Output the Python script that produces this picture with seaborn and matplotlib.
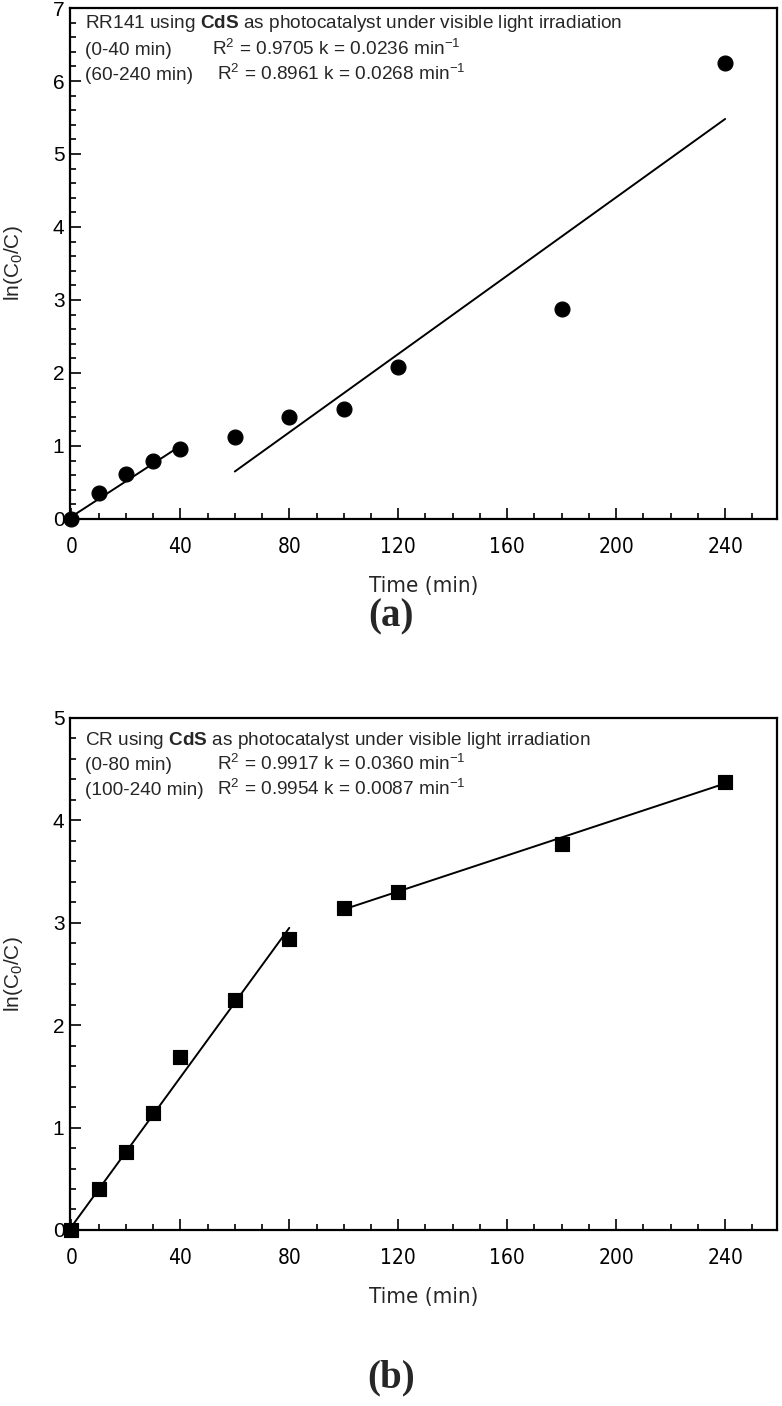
import numpy as np
import pandas as pd
import matplotlib
matplotlib.use("Agg")
import matplotlib.pyplot as plt
import seaborn as sns
from matplotlib import font_manager
from matplotlib.ticker import MultipleLocator

# Panel (a): RR141 on CdS
time_a = [0, 10, 20, 30, 40, 60, 80, 100, 120, 180, 240]
lnc_a = [0.0, 0.35, 0.62, 0.80, 0.96, 1.12, 1.40, 1.51, 2.08, 2.88, 6.25]
fit_a1_x = [0, 40]
fit_a1_y = [0.03, 1.00]
fit_a2_x = [60, 240]
fit_a2_y = [0.65, 5.48]

# Panel (b): CR on CdS
time_b = [0, 10, 20, 30, 40, 60, 80, 100, 120, 180, 240]
lnc_b = [0.0, 0.40, 0.76, 1.14, 1.69, 2.25, 2.84, 3.14, 3.30, 3.77, 4.37]
fit_b1_x = [0, 80]
fit_b1_y = [0.03, 2.95]
fit_b2_x = [100, 240]
fit_b2_y = [3.13, 4.36]

xticks = [0, 40, 80, 120, 160, 200, 240]

sns.set_style("ticks")
plt.rcParams['font.family'] = ['Liberation Sans', 'DejaVu Sans']
plt.rcParams['mathtext.fontset'] = 'custom'
plt.rcParams['mathtext.rm'] = 'Liberation Sans'
plt.rcParams['mathtext.bf'] = 'Liberation Sans:bold'
plt.rcParams['mathtext.it'] = 'Liberation Sans:italic'

# x axis labels are in a narrow face in the original; use one if present
names = {f.name for f in font_manager.fontManager.ttflist}
narrow_kw = {'family': ['Liberation Sans', 'DejaVu Sans']}
if 'Liberation Sans Narrow' in names:
    narrow_kw = {'family': ['Liberation Sans Narrow', 'Liberation Sans']}
elif any(f.name == 'DejaVu Sans' and f.stretch == 'condensed'
         for f in font_manager.fontManager.ttflist):
    narrow_kw = {'family': ['DejaVu Sans'], 'stretch': 'condensed'}

fig = plt.figure(figsize=(7.82, 14.06), dpi=100)
ax1 = fig.add_axes([0.0895, 0.6309, 0.904, 0.3634])
ax2 = fig.add_axes([0.0895, 0.1252, 0.904, 0.3642])

FS = 13.7


def style_axis(ax, ymax):
    ax.set_xlim(-0.5, 259)
    ax.set_ylim(0, ymax)
    ax.set_xticks(xticks)
    ax.xaxis.set_minor_locator(MultipleLocator(10))
    ax.yaxis.set_major_locator(MultipleLocator(1))
    ax.yaxis.set_minor_locator(MultipleLocator(0.2))
    ax.tick_params(which='both', direction='in', top=False, right=False,
                   width=1.2, colors='black')
    ax.tick_params(which='major', length=8)
    ax.tick_params(which='minor', length=4.5)
    ax.tick_params(axis='x', which='major', pad=13)
    ax.tick_params(axis='y', which='major', pad=4, labelsize=15)
    for lab in ax.get_xticklabels():
        lab.set(**narrow_kw)
        lab.set_fontsize(15)
    for s in ax.spines.values():
        s.set_linewidth(1.6)
        s.set_color('black')
    ax.set_xlabel('Time (min)', fontsize=16, labelpad=14, **narrow_kw)
    ax.set_ylabel(r'ln(C$_0$/C)', fontsize=15, labelpad=20)


def annotate(ax, title, rows, ys, r_x):
    ax.text(0.021, ys[0], title, transform=ax.transAxes, fontsize=FS,
            va='baseline')
    for (rng, stat), y, rx in zip(rows, ys[1:], r_x):
        ax.text(0.021, y, rng, transform=ax.transAxes, fontsize=FS,
                va='baseline')
        ax.text(rx, y, stat, transform=ax.transAxes, fontsize=FS,
                va='baseline')


# (a)
sns.lineplot(x=fit_a1_x, y=fit_a1_y, ax=ax1, color='black', lw=1.4)
sns.lineplot(x=fit_a2_x, y=fit_a2_y, ax=ax1, color='black', lw=1.4)
sns.scatterplot(x=time_a, y=lnc_a, ax=ax1, marker='o', s=115, color='black',
                edgecolor='black', zorder=5, clip_on=False)
style_axis(ax1, 7)
annotate(ax1,
         r'RR141 using $\mathbf{CdS}$ as photocatalyst under visible light irradiation',
         [('(0-40 min)', r'R$^2$ = 0.9705 k = 0.0236 min$^{\mathrm{-1}}$'),
          ('(60-240 min)', r'R$^2$ = 0.8961 k = 0.0268 min$^{\mathrm{-1}}$')],
         [0.961, 0.909, 0.859], [0.201, 0.208])

# (b)
sns.lineplot(x=fit_b1_x, y=fit_b1_y, ax=ax2, color='black', lw=1.4)
sns.lineplot(x=fit_b2_x, y=fit_b2_y, ax=ax2, color='black', lw=1.4)
sns.scatterplot(x=time_b, y=lnc_b, ax=ax2, marker='s', s=105, color='black',
                edgecolor='black', zorder=5, clip_on=False)
style_axis(ax2, 5)
annotate(ax2,
         r'CR using $\mathbf{CdS}$ as photocatalyst under visible light irradiation',
         [('(0-80 min)', r'R$^2$ = 0.9917 k = 0.0360 min$^{\mathrm{-1}}$'),
          ('(100-240 min)', r'R$^2$ = 0.9954 k = 0.0087 min$^{\mathrm{-1}}$')],
         [0.947, 0.898, 0.850], [0.208, 0.208])

fig.text(0.5, 1 - 617 / 1406, '(a)', ha='center', va='center', fontsize=28,
         fontweight='bold', family='Liberation Serif')
fig.text(0.5, 1 - 1378 / 1406, '(b)', ha='center', va='center', fontsize=28,
         fontweight='bold', family='Liberation Serif')

fig.savefig('out.png', dpi=100)
